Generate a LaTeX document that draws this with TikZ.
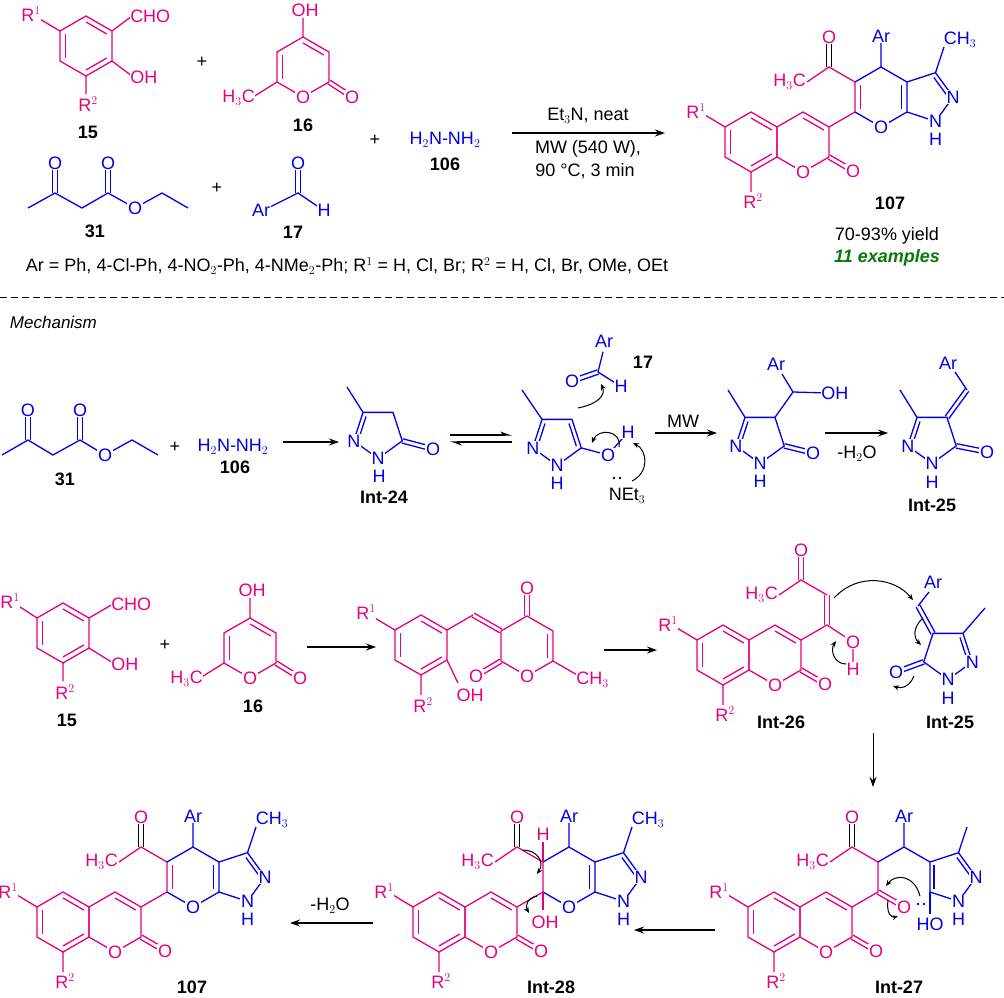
\documentclass[tikz,border=0pt]{standalone}
\usepackage{fontspec}
\setmainfont{Liberation Sans}
\usetikzlibrary{calc,arrows.meta}
\definecolor{pk}{RGB}{230,0,126}
\definecolor{bl}{RGB}{0,0,230}
\definecolor{gr}{RGB}{10,120,10}
\tikzset{
  atom/.style={fill=white,inner sep=0.6pt,font=\fontsize{18}{18}\selectfont},
  cmpd/.style={font=\fontsize{18}{18}\selectfont\bfseries},
  txt/.style={font=\fontsize{18}{18}\selectfont},
  curly/.style={line width=1pt,-{Stealth[length=6pt,width=5pt]}},
}
% hexagon with vertical sides: 1 top, 2 upper right, ... 6 upper left
\newcommand{\ring}[3]{%
  \foreach \i/\a in {1/-90,2/-30,3/30,4/90,5/150,6/210}{\path (#2,#3) ++(\a:30) coordinate (#1\i);}
  \path (#2,#3) coordinate (#1c);
  \draw (#11)--(#12)--(#13)--(#14)--(#15)--(#16)--cycle;}
% pentagon: 1 bottom, 2 right, 3 upper right, 4 upper left, 5 left
\newcommand{\pent}[3]{%
  \foreach \i/\a in {1/90,2/18,3/-54,4/-126,5/162}{\path (#2,#3) ++(\a:25.5) coordinate (#1\i);}
  \path (#2,#3) coordinate (#1c);
  \draw (#11)--(#12)--(#13)--(#14)--(#15)--cycle;}
\newcommand{\inb}[3]{\draw ($(#1)!.2!(#3)$) -- ($(#2)!.2!(#3)$);}
\newcommand{\dbl}[2]{\draw ($(#1)!2.2pt!90:(#2)$) -- ($(#2)!2.2pt!-90:(#1)$) ($(#1)!2.2pt!-90:(#2)$) -- ($(#2)!2.2pt!90:(#1)$);}
\newcommand{\coumarin}[3]{%
  \begin{scope}[shift={(#2,#3)},pk]
    \ring{#1b}{-26}{0} \ring{#1q}{26}{0}
    \inb{#1b1}{#1b2}{#1bc} \inb{#1b3}{#1b4}{#1bc} \inb{#1b5}{#1b6}{#1bc} \inb{#1q1}{#1q2}{#1qc}
    \coordinate (#1qo) at (76,29);
    \draw (#1b6) -- (-72,-27) (#1b4) -- (-26,50);
    \dbl{#1q3}{#1qo}
    \node[atom] (#1O1) at (#1q4) {O};
    \node[atom] (#1O2) at (#1qo) {O};
    \node[atom] (#1R1) at (-81,-31) {R$^1$};
    \node[atom] (#1R2) at (-24,59) {R$^2$};
  \end{scope}}
% pyrazole half, acetyl and aryl carbon, local to the coumarin origin
\newcommand{\fusedcore}[3]{%
  \begin{scope}[shift={(#2,#3)}]
    \foreach \n/\p in {c6/{78,-30},c5/{78,-60},c4/{104,-75},ca/{130,-60},cb/{130,-30},o7/{104,-15},
      p3/{158.5,-69.3},n2/{176.2,-45},n1/{158.5,-20.7},pc/{150.6,-45},yc/{104,-45},
      ac/{52,-75},ao/{52,-105},me/{30,-60},ar/{104,-100},mt/{167,-95}}{\coordinate (#1\n) at (\p);}
    \draw[pk] (#1q2) -- (#1c6) -- (#1c5) -- (#1ac) -- (#1me);
    \dbl{#1ac}{#1ao}
    \draw[bl] (#1c5) -- (#1c4) -- (#1ca) -- (#1cb) -- (#1n1) -- (#1n2) -- (#1p3) -- (#1ca);
    \draw[bl] (#1c4) -- (#1ar) (#1p3) -- (#1mt);
    \begin{scope}[bl]\inb{#1p3}{#1n2}{#1pc}\end{scope}
    \node[atom,text=pk] (#1Oa) at (#1ao) {O};
    \node[atom,text=pk,anchor=east] (#1Me) at (#1me) {H$_3$C};
    \node[atom,text=bl] (#1Ar) at ($(#1ar)+(0,-6)$) {Ar};
    \node[atom,text=bl] (#1N2) at (#1n2) {N};
    \node[atom,text=bl] (#1N1) at (#1n1) {N};
    \node[atom,text=bl,fill=none] (#1H1) at ($(#1n1)+(0,18)$) {H};
  \end{scope}}
\newcommand{\pyranring}[1]{%
  \draw[bl] (#1cb) -- (#1o7) -- (#1c6);
  \begin{scope}[bl]\inb{#1ca}{#1cb}{#1yc}\end{scope}
  \node[atom,text=bl] (#1O7) at (#1o7) {O};
  \node[atom,text=bl,fill=none] (#1CH) at ($(#1mt)+(16,-7)$) {CH$_3$};}

\begin{document}
\begin{tikzpicture}[x=1pt,y=-1pt,line width=1.3pt,>={Stealth[length=10pt,width=7pt]}]
\useasboundingbox (0,0) rectangle (1004,998);

% ---------- one-pot reaction ----------
\begin{scope}[pk]
  \ring{s}{86}{46}
  \inb{s1}{s2}{sc} \inb{s3}{s4}{sc} \inb{s5}{s6}{sc}
  \draw (s6) -- (38,18) (s2) -- (132,16) (s3) -- (132,76) (s4) -- (86,94);
  \node[atom] (sR1) at (31,14) {R$^1$};
  \node[atom,anchor=west] (sCHO) at (129,16) {CHO};
  \node[atom,anchor=west] (sOH) at (129,77) {OH};
  \node[atom] (sR2) at (88,104) {R$^2$};
\end{scope}
\node[cmpd] (l15) at (88,132) {15};
\node[txt] (plus1) at (202,62) {+};

\begin{scope}[pk]
  \ring{p}{303}{67}
  \inb{p1}{p2}{pc} \inb{p5}{p6}{pc}
  \coordinate (po) at (352,97);
  \draw (p1) -- (303,18) (p5) -- (253,97);
  \dbl{p3}{po}
  \node[atom] (pOH) at (305,10) {OH};
  \node[atom,anchor=east] (pMe) at (256,98) {H$_3$C};
  \node[atom] (pO1) at (p4) {O};
  \node[atom] (pO2) at (po) {O};
\end{scope}
\node[cmpd] (l16) at (303,125) {16};
\node[txt] (plus2) at (375,140) {+};
\node[txt,text=bl] (hyd) at (445,140) {H$_2$N-NH$_2$};
\node[cmpd] (l106) at (445,164) {106};

\begin{scope}[bl]
  \foreach \n/\p in {e1/{28,208},e2/{55,193},e3/{82,208},e4/{108,193},e5/{135,208},e6/{162,193},e7/{188,208},eo/{55,163},ep/{108,163}}{\coordinate (\n) at (\p);}
  \draw (e1) -- (e2) -- (e3) -- (e4) -- (e5) -- (e6) -- (e7);
  \dbl{e2}{eo} \dbl{e4}{ep}
  \node[atom] (eO1) at (eo) {O};
  \node[atom] (eO2) at (ep) {O};
  \node[atom] (eO3) at (e5) {O};
\end{scope}
\node[cmpd] (l31) at (95,231) {31};
\node[txt] (plus3) at (217,188) {+};
\begin{scope}[bl]
  \coordinate (ac) at (298,193); \coordinate (ao) at (298,163);
  \draw (268,208) -- (ac) -- (320,208);
  \dbl{ac}{ao}
  \node[atom] (aO) at (ao) {O};
  \node[atom] (aAr) at (261,210) {Ar};
  \node[atom] (aH) at (324,210) {H};
\end{scope}
\node[cmpd] (l17) at (293,232) {17};
\node[txt,anchor=west] (legend) at (22,266) {Ar = Ph, 4-Cl-Ph, 4-NO$_2$-Ph, 4-NMe$_2$-Ph; R$^1$ = H, Cl, Br; R$^2$ = H, Cl, Br, OMe, OEt};

\coordinate (r0a) at (512,133); \coordinate (r0b) at (665,133);
\draw[->] (r0a) -- (r0b);
\node[txt] (cond1) at (588,116) {Et$_3$N, neat};
\node[txt] (cond2) at (588,149) {MW (540 W),};
\node[txt] (cond3) at (585,171) {90 °C, 3 min};

\coumarin{t}{777}{142}
\fusedcore{t}{777}{142}
\begin{scope}[shift={(777,142)}]
  \pyranring{t}
  \begin{scope}[pk]\inb{tc5}{tc6}{tyc}\end{scope}
\end{scope}
\node[cmpd] (l107a) at (890,203) {107};
\node[txt] (yield) at (887,236) {70-93\% yield};
\node[cmpd,text=gr,font=\fontsize{18}{18}\selectfont\bfseries\itshape] (examples) at (887,258) {11 examples};

\draw[line width=1pt,dash pattern=on 7pt off 4pt] (0,297) -- (1004,297);
\node[txt,anchor=west,font=\fontsize{17}{17}\selectfont\itshape] (mech) at (6,322) {Mechanism};

% ---------- row 1 ----------
\begin{scope}[bl]
  \foreach \n/\p in {f1/{2,455},f2/{28,440},f3/{53,455},f4/{80,440},f5/{105,455},f6/{132,440},f7/{158,455},fo/{28,410},fp/{80,410}}{\coordinate (\n) at (\p);}
  \draw (f1) -- (f2) -- (f3) -- (f4) -- (f5) -- (f6) -- (f7);
  \dbl{f2}{fo} \dbl{f4}{fp}
  \node[atom] (fO1) at (fo) {O};
  \node[atom] (fO2) at (fp) {O};
  \node[atom] (fO3) at (f5) {O};
\end{scope}
\node[cmpd] (m31) at (65,479) {31};
\node[txt] (plus4) at (175,447) {+};
\node[txt,text=bl] (hyd2) at (233,447) {H$_2$N-NH$_2$};
\node[cmpd] (m106) at (235,467) {106};
\coordinate (r1a) at (283,442); \coordinate (r1b) at (339,442);
\draw[->] (r1a) -- (r1b);

\begin{scope}[bl]
  \pent{g}{378}{433}
  \inb{g4}{g5}{gc}
  \coordinate (go) at (433,449);
  \draw (g4) -- (347,387);
  \dbl{g2}{go}
  \node[atom] (gO) at (go) {O};
  \node[atom] (gN2) at (g5) {N};
  \node[atom] (gN1) at (g1) {N};
  \node[atom,fill=none] (gH) at (379,476) {H};
\end{scope}
\node[cmpd] (int24) at (384,497) {Int-24};
\coordinate (q1a) at (450,435); \coordinate (q1b) at (512,435);
\coordinate (q2a) at (512,442); \coordinate (q2b) at (450,442);
\draw[-{Stealth[left,length=10pt,width=7pt]}] (q1a) -- (q1b);
\draw[-{Stealth[left,length=10pt,width=7pt]}] (q2a) -- (q2b);

\begin{scope}[bl]
  \pent{h}{557}{440}
  \inb{h4}{h5}{hc} \inb{h3}{h2}{hc}
  \coordinate (ho) at (608,455); \coordinate (hh) at (628,432);
  \draw (h4) -- (522,390) (h2) -- (ho) -- (hh);
  \node[atom] (hO) at (ho) {O};
  \node[atom] (hH) at (hh) {H};
  \node[atom] (hN2) at (h5) {N};
  \node[atom] (hN1) at (h1) {N};
  \node[atom,fill=none] (hH1) at (557,483) {H};
  \coordinate (kc) at (598,372); \coordinate (ko) at (572,381);
  \draw (603,352) -- (kc) -- (617,384);
  \dbl{kc}{ko}
  \node[atom] (kAr) at (604,341) {Ar};
  \node[atom] (kO) at (ko) {O};
  \node[atom] (kH) at (621,386) {H};
\end{scope}
\node[cmpd] (m17) at (643,362) {17};
\node[txt] (net) at (627,496) {NEt$_3$};
\fill (614,478) circle[radius=1.3pt] (620,478) circle[radius=1.3pt];
\draw[curly] (578,408) .. controls (598,404) and (606,395) .. (601,384);
\draw[curly] (619,447) .. controls (622,430) and (598,428) .. (592,443);
\draw[curly] (632,481) .. controls (650,472) and (647,450) .. (633,443);

\coordinate (r2a) at (655,433); \coordinate (r2b) at (717,433);
\draw[->] (r2a) -- (r2b);
\node[txt] (mw) at (683,421) {MW};

\begin{scope}[bl]
  \pent{i}{760}{438}
  \inb{i4}{i5}{ic}
  \coordinate (io) at (813,453); \coordinate (ich) at (793,392);
  \draw (i4) -- (728,390) (i3) -- (ich) -- (828,393) (ich) -- (782,374);
  \dbl{i2}{io}
  \node[atom] (iO) at (io) {O};
  \node[atom] (iAr) at (776,364) {Ar};
  \node[atom,anchor=west] (iOH) at (820,393) {OH};
  \node[atom] (iN2) at (i5) {N};
  \node[atom] (iN1) at (i1) {N};
  \node[atom,fill=none] (iH) at (760,481) {H};
\end{scope}
\coordinate (r3a) at (825,433); \coordinate (r3b) at (888,433);
\draw[->] (r3a) -- (r3b);
\node[txt] (h2o1) at (857,454) {-H$_2$O};

\begin{scope}[bl]
  \pent{j}{932}{438}
  \inb{j4}{j5}{jc}
  \coordinate (jo) at (987,452); \coordinate (jch) at (967,390);
  \draw (j4) -- (900,390) (jch) -- (955,372);
  \dbl{j3}{jch} \dbl{j2}{jo}
  \node[atom] (jO) at (jo) {O};
  \node[atom] (jAr) at (948,363) {Ar};
  \node[atom] (jN2) at (j5) {N};
  \node[atom] (jN1) at (j1) {N};
  \node[atom,fill=none] (jH) at (932,482) {H};
\end{scope}
\node[cmpd] (int25a) at (932,505) {Int-25};

% ---------- row 2 ----------
\begin{scope}[pk]
  \ring{u}{63}{633}
  \inb{u1}{u2}{uc} \inb{u3}{u4}{uc} \inb{u5}{u6}{uc}
  \draw (u6) -- (17,605) (u2) -- (113,604) (u3) -- (113,663) (u4) -- (63,681);
  \node[atom] (uR1) at (10,601) {R$^1$};
  \node[atom,anchor=west] (uCHO) at (110,604) {CHO};
  \node[atom,anchor=west] (uOH) at (110,664) {OH};
  \node[atom] (uR2) at (65,692) {R$^2$};
\end{scope}
\node[cmpd] (n15) at (67,720) {15};
\node[txt] (plus5) at (165,645) {+};
\begin{scope}[pk]
  \ring{v}{250}{648}
  \inb{v1}{v2}{vc} \inb{v5}{v6}{vc}
  \coordinate (vo) at (300,678);
  \draw (v1) -- (250,598) (v5) -- (200,678);
  \dbl{v3}{vo}
  \node[atom] (vOH) at (252,590) {OH};
  \node[atom,anchor=east] (vMe) at (204,679) {H$_3$C};
  \node[atom] (vO1) at (v4) {O};
  \node[atom] (vO2) at (vo) {O};
\end{scope}
\node[cmpd] (n16) at (253,706) {16};
\coordinate (r4a) at (307,647); \coordinate (r4b) at (376,647);
\draw[->] (r4a) -- (r4b);

\begin{scope}[pk]
  \ring{w}{421}{645}
  \inb{w1}{w2}{wc} \inb{w3}{w4}{wc} \inb{w5}{w6}{wc}
  \ring{x}{527}{646}
  \inb{x2}{x3}{xc}
  \coordinate (wch) at (473,615); \coordinate (xo) at (527,588); \coordinate (xp) at (476,676);
  \draw (w6) -- (373,617) (w4) -- (421,695) (w3) -- (458,683) (w2) -- (wch) (x3) -- (579,676);
  \dbl{wch}{x6} \dbl{x1}{xo} \dbl{x5}{xp}
  \node[atom] (wR1) at (366,612) {R$^1$};
  \node[atom] (wR2) at (423,705) {R$^2$};
  \node[atom] (wOH) at (470,695) {OH};
  \node[atom] (xO) at (xo) {O};
  \node[atom] (xP) at (xp) {O};
  \node[atom] (xO1) at (x4) {O};
  \node[atom,anchor=west] (xMe) at (575,680) {CH$_3$};
\end{scope}
\coordinate (r5a) at (604,650); \coordinate (r5b) at (657,650);
\draw[->] (r5a) -- (r5b);

\coumarin{y}{749}{655}
\begin{scope}[shift={(749,655)},pk]
  \foreach \n/\p in {ye/{78,-30},yv/{78,-60},yac/{52,-75},yao/{52,-105},yme/{30,-60},yo/{104,-13},yh/{104,14}}{\coordinate (\n) at (\p);}
  \draw (yq2) -- (ye) -- (yo) -- (yh) (yv) -- (yac) -- (yme);
  \dbl{ye}{yv} \dbl{yac}{yao}
  \node[atom] (yO) at (yao) {O};
  \node[atom,anchor=east] (yMe) at (yme) {H$_3$C};
  \node[atom] (yOH) at (yo) {O};
  \node[atom] (yH) at (yh) {H};
\end{scope}
\node[cmpd] (int26) at (781,722) {Int-26};

\begin{scope}[bl]
  \pent{z}{948}{654}
  \inb{z3}{z2}{zc}
  \coordinate (zch) at (918,606); \coordinate (zo) at (896,672);
  \draw (z3) -- (985,608) (zch) -- (929,592);
  \dbl{z4}{zch} \dbl{z5}{zo}
  \node[atom] (zAr) at (933,582) {Ar};
  \node[atom] (zO) at (zo) {O};
  \node[atom] (zN2) at (z2) {N};
  \node[atom] (zN1) at (z1) {N};
  \node[atom,fill=none] (zH) at (948,698) {H};
\end{scope}
\node[cmpd] (int25b) at (950,722) {Int-25};
\draw[curly] (834,598) .. controls (858,572) and (895,578) .. (913,600);
\draw[curly] (846,664) .. controls (834,664) and (830,650) .. (836,641);
\draw[curly] (923,618) .. controls (912,628) and (914,638) .. (921,645);
\draw[curly] (914,676) .. controls (910,686) and (902,689) .. (893,686);

\coordinate (r6a) at (873,733); \coordinate (r6b) at (873,787);
\draw[->,line width=1pt] (r6a) -- (r6b);

% ---------- row 3 ----------
\coumarin{c}{800}{922}
\fusedcore{c}{800}{922}
\begin{scope}[shift={(800,922)}]
  \coordinate (cho) at (130,-8);
  \draw[bl] (ccb) -- (cho);
  \begin{scope}[bl]\inb{cca}{ccb}{cpc}\end{scope}
  \begin{scope}[pk]\dbl{cc6}{co7}\end{scope}
  \node[atom,text=pk] (cOk) at (co7) {O};
  \node[atom,text=bl] (cHO) at (130,2) {HO};
  \fill[bl] (118,-18) circle[radius=1.3pt] (124,-18) circle[radius=1.3pt];
  \draw[curly] (120,-26) .. controls (114,-48) and (95,-48) .. (86,-36);
  \draw[curly] (88,-22) .. controls (86,-8) and (92,-4) .. (98,-6);
\end{scope}
\node[cmpd] (int27) at (899,987) {Int-27};
\coordinate (r7a) at (715,930); \coordinate (r7b) at (634,930);
\draw[->] (r7a) -- (r7b);

\coumarin{d}{465}{922}
\fusedcore{d}{465}{922}
\begin{scope}[shift={(465,922)}]
  \pyranring{d}
  \draw[pk] (dc5) -- (78,-80) (dc6) -- (78,-12);
  \node[atom,text=pk] (dH) at (78,-88) {H};
  \node[atom,text=pk,fill=none] (dOH) at (80,0) {OH};
  \draw[curly] (58,-72) .. controls (72,-72) and (80,-60) .. (72,-48);
  \draw[curly] (72,-26) .. controls (62,-24) and (60,-16) .. (64,-9);
\end{scope}
\node[cmpd] (int28) at (551,987) {Int-28};
\coordinate (r8a) at (373,923); \coordinate (r8b) at (290,923);
\draw[->] (r8a) -- (r8b);
\node[txt] (h2o2) at (330,906) {-H$_2$O};

\coumarin{a}{89}{922}
\fusedcore{a}{89}{922}
\begin{scope}[shift={(89,922)}]
  \pyranring{a}
  \begin{scope}[pk]\inb{ac5}{ac6}{ayc}\end{scope}
\end{scope}
\node[cmpd] (l107b) at (192,987) {107};
\end{tikzpicture}
\end{document}
